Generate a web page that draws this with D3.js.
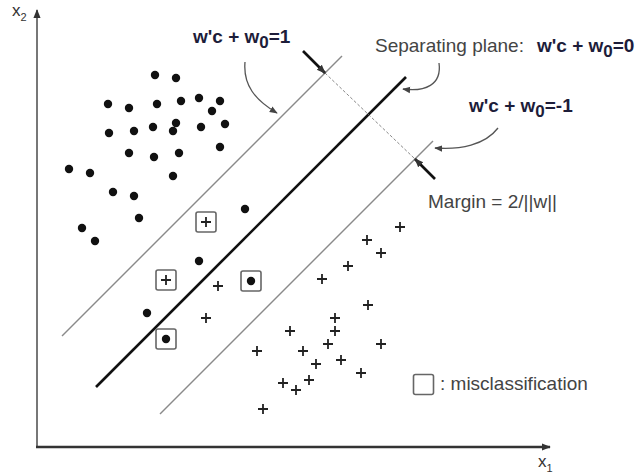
<!DOCTYPE html>
<html lang="en">
<head>
    <meta charset="UTF-8">
    <title>SVM margin</title>
    <style>
        body {
            margin: 0;
            background: #fff;
        }

        .note {
            font: 19px "Liberation Sans", Arial, sans-serif;
            fill: #444;
        }

        .eq {
            font: bold 19px "Liberation Sans", Arial, sans-serif;
            fill: #1d1d3a;
        }

        .axis-label {
            font: 17px "Liberation Sans", Arial, sans-serif;
            fill: #333;
        }

        .hyper {
            fill: none;
            stroke: #8a8a8a;
            stroke-width: 1.4px;
        }

        .hyper--main {
            stroke: #111;
            stroke-width: 2.6px;
        }

        .plus {
            stroke: #222;
            stroke-width: 1.8px;
        }

        .box {
            fill: none;
            stroke: #666;
            stroke-width: 1.6px;
        }

        .curl {
            fill: none;
            stroke: #555;
            stroke-width: 1.3px;
        }
    </style>
</head>
<body>
<svg width="638" height="474"></svg>
<script src="https://cdnjs.cloudflare.com/ajax/libs/d3/7.8.5/d3.min.js"></script>
<script>
    // class "dot" points (x1, x2)
    let dotX = [2.36, 2.78, 1.42, 1.84, 2.40, 2.88, 3.24, 3.66, 3.50, 1.44, 1.94, 2.32, 2.78, 2.72, 3.28, 3.76,
        3.66, 1.84, 2.34, 2.84, 0.64, 1.06, 2.72, 1.52, 1.94, 2.04, 0.90, 1.16, 4.16, 3.24, 2.20, 4.28, 2.58];
    let dotY = [7.44, 7.38, 6.86, 6.78, 6.86, 6.92, 6.98, 6.92, 6.72, 6.28, 6.32, 6.40, 6.48, 6.32, 6.40, 6.46,
        6.00, 5.88, 5.80, 5.88, 5.56, 5.48, 5.42, 5.10, 5.02, 4.58, 4.38, 4.12, 4.76, 3.72, 2.68, 3.32, 2.16];
    let dotWrong = [31, 32];

    // class "plus" points
    let plusX = [3.38, 2.58, 3.62, 3.38, 4.40, 7.26, 6.60, 6.88, 6.22, 5.70, 6.62, 5.96, 5.06, 5.96, 5.82, 6.88,
        5.32, 5.58, 6.08, 6.48, 4.92, 5.18, 5.44, 4.52];
    let plusY = [4.50, 3.34, 3.22, 2.58, 1.92, 4.40, 4.14, 3.88, 3.62, 3.36, 2.84, 2.58, 2.32, 2.32, 2.06, 2.06,
        1.92, 1.66, 1.74, 1.48, 1.28, 1.14, 1.34, 0.76];
    let plusWrong = [0, 1];

    // hyperplanes x2 = x1 + offset, drawn between x1 start / end
    let planeOffset = [1.72, 0.02, -1.80];
    let planeStart = [0.50, 1.18, 2.46];
    let planeEnd = [6.10, 7.38, 7.92];

    let labels = [
        {cls: "eq", x: 3.12, y: 8.08, parts: ["w'c + w", "0", "=1"]},
        {cls: "note", x: 6.76, y: 7.90, parts: ["Separating plane:"]},
        {cls: "eq", x: 10.0, y: 7.90, parts: ["w'c + w", "0", "=0"]},
        {cls: "eq", x: 8.64, y: 6.70, parts: ["w'c + w", "0", "=-1"]},
        {cls: "note", x: 7.82, y: 4.78, parts: ["Margin = 2/||w||"]},
        {cls: "note", x: 8.06, y: 1.14, parts: [": misclassification"]}
    ];

    let curls = [
        [[4.16, 7.70], [4.12, 7.24], [4.36, 6.94], [4.80, 6.68]],
        [[8.04, 7.68], [8.10, 7.24], [7.76, 7.10], [7.32, 7.16]],
        [[9.22, 6.38], [8.96, 6.04], [8.46, 5.94], [7.96, 5.98]]
    ];

    let svg = d3.select("svg");

    let x = d3.scaleLinear().domain([0, 10]).range([37, 537]);
    let y = d3.scaleLinear().domain([0, 10]).range([447, -53]);

    let defs = svg.append("defs");
    function arrowMarker(id, color, size) {
        defs.append("marker")
            .attr("id", id)
            .attr("viewBox", "0 -5 10 10")
            .attr("refX", 9).attr("refY", 0)
            .attr("markerWidth", size).attr("markerHeight", size)
            .attr("markerUnits", "userSpaceOnUse")
            .attr("orient", "auto")
            .append("path")
            .attr("d", "M0,-4L10,0L0,4Z")
            .attr("fill", color);
    }
    arrowMarker("tip", "#333", 9);
    arrowMarker("tip-small", "#444", 8);

    // axes
    svg.append("line")
        .attr("x1", x(0)).attr("y1", y(0))
        .attr("x2", x(0)).attr("y2", y(8.74))
        .attr("stroke", "#777").attr("stroke-width", 2)
        .attr("marker-end", "url(#tip)");
    svg.append("line")
        .attr("x1", x(0) - 1).attr("y1", y(0))
        .attr("x2", x(10.26)).attr("y2", y(0))
        .attr("stroke", "#333").attr("stroke-width", 2.4)
        .attr("marker-end", "url(#tip)");

    let ax2 = svg.append("text").attr("class", "axis-label")
        .attr("x", 12).attr("y", y(8.62));
    ax2.append("tspan").text("x");
    ax2.append("tspan").attr("dy", 5).style("font-size", "11px").text("2");
    let ax1 = svg.append("text").attr("class", "axis-label")
        .attr("x", 538).attr("y", 467);
    ax1.append("tspan").text("x");
    ax1.append("tspan").attr("dy", 5).style("font-size", "11px").text("1");

    // hyperplanes
    svg.selectAll(".hyper")
        .data(planeOffset)
        .enter().append("line")
        .attr("class", function (d, i) {
            return i == 1 ? "hyper hyper--main" : "hyper";
        })
        .attr("x1", function (d, i) { return x(planeStart[i]); })
        .attr("y1", function (d, i) { return y(planeStart[i] + d); })
        .attr("x2", function (d, i) { return x(planeEnd[i]); })
        .attr("y2", function (d, i) { return y(planeEnd[i] + d); });

    // margin: dashed perpendicular between the two thin planes, with arrows
    let mTop = [5.76, 5.76 + planeOffset[0]], mBot = [7.56, 7.56 + planeOffset[2]];
    svg.append("line")
        .attr("x1", x(mTop[0])).attr("y1", y(mTop[1]))
        .attr("x2", x(mBot[0])).attr("y2", y(mBot[1]))
        .attr("stroke", "#888").attr("stroke-width", 1)
        .attr("stroke-dasharray", "3,2");
    svg.append("line")
        .attr("x1", x(mTop[0] - 0.44)).attr("y1", y(mTop[1] + 0.44))
        .attr("x2", x(mTop[0])).attr("y2", y(mTop[1]))
        .attr("stroke", "#111").attr("stroke-width", 2.6)
        .attr("marker-end", "url(#tip)");
    svg.append("line")
        .attr("x1", x(mBot[0] + 0.4)).attr("y1", y(mBot[1] - 0.4))
        .attr("x2", x(mBot[0])).attr("y2", y(mBot[1]))
        .attr("stroke", "#111").attr("stroke-width", 2.6)
        .attr("marker-end", "url(#tip)");

    // curved pointer arrows
    svg.selectAll(".curl")
        .data(curls)
        .enter().append("path")
        .attr("class", "curl")
        .attr("marker-end", "url(#tip-small)")
        .attr("d", function (c) {
            return "M" + x(c[0][0]) + "," + y(c[0][1])
                + "C" + c.slice(1).map(function (p) { return x(p[0]) + "," + y(p[1]); }).join(" ");
        });

    // points
    svg.selectAll(".dot")
        .data(dotX)
        .enter().append("circle")
        .attr("class", "dot")
        .attr("cx", function (d) { return x(d); })
        .attr("cy", function (d, i) { return y(dotY[i]); })
        .attr("r", 4.2)
        .attr("fill", "#111");

    svg.selectAll(".plus")
        .data(plusX)
        .enter().append("path")
        .attr("class", "plus")
        .attr("d", function (d, i) {
            let px = x(d), py = y(plusY[i]);
            return "M" + (px - 5) + "," + py + "H" + (px + 5) + "M" + px + "," + (py - 5) + "V" + (py + 5);
        });

    // misclassified boxes
    let wrong = dotWrong.map(function (i) { return [dotX[i], dotY[i]]; })
        .concat(plusWrong.map(function (i) { return [plusX[i], plusY[i]]; }))
        .concat([[7.73, 1.25]]);
    svg.selectAll(".box")
        .data(wrong)
        .enter().append("rect")
        .attr("class", "box")
        .attr("x", function (d) { return x(d[0]) - 10; })
        .attr("y", function (d) { return y(d[1]) - 10; })
        .attr("width", 20).attr("height", 20)
        .attr("rx", 2);

    // labels
    labels.forEach(function (l) {
        let t = svg.append("text").attr("class", l.cls)
            .attr("x", x(l.x)).attr("y", y(l.y));
        t.append("tspan").text(l.parts[0]);
        if (l.parts.length > 1) {
            t.append("tspan").attr("dy", 5).style("font-size", "17px").text(l.parts[1]);
            t.append("tspan").attr("dy", -5).text(l.parts[2]);
        }
    });
</script>
</body>
</html>
